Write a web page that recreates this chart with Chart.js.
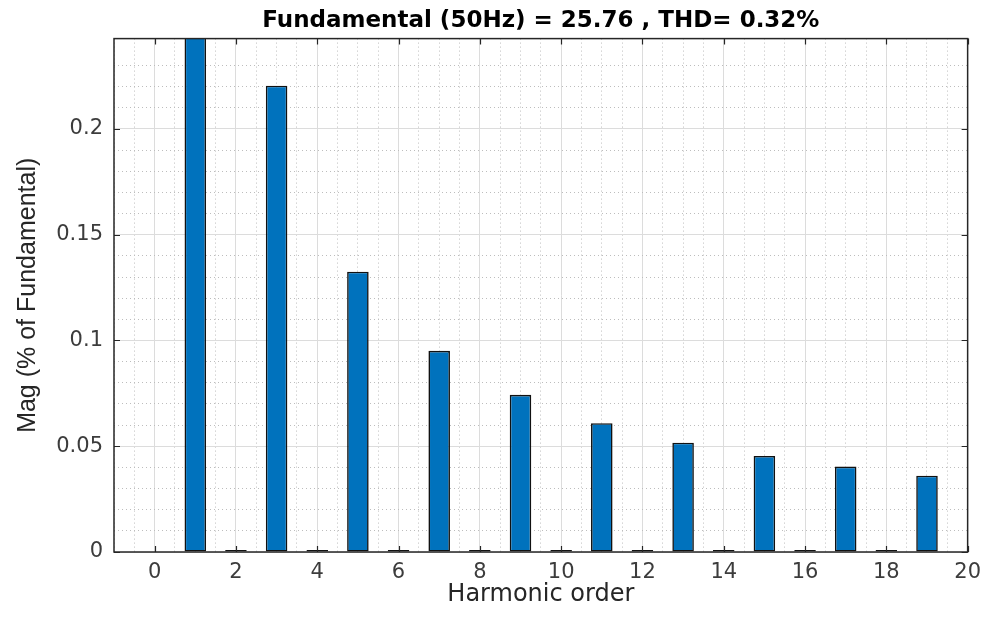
<!DOCTYPE html>
<html>
<head>
<meta charset="utf-8">
<script src="https://cdn.jsdelivr.net/npm/chart.js@4/dist/chart.umd.min.js"></script>
<style>
  html, body { margin: 0; padding: 0; background: #ffffff; }
  #wrap { width: 989px; height: 619px; }
</style>
</head>
<body>
<div id="wrap"><canvas id="c" width="989" height="619"></canvas></div>
<script>
// ---- data ----
const harmonicOrder = [0, 1, 2, 3, 4, 5, 6, 7, 8, 9, 10, 11, 12, 13, 14, 15, 16, 17, 18, 19];
const magnitudePct  = [0, 100, 0.001, 0.2204, 0.001, 0.1325, 0.001, 0.0951, 0.001, 0.0743,
                       0.001, 0.0609, 0.001, 0.0517, 0.001, 0.0454, 0.001, 0.0404, 0.001, 0.0361];
const xRange = [-1, 20];
const yRange = [0, 0.2427];
const xMajorStep = 2, xMinorStep = 0.5;
const yMajorStep = 0.05, yMinorStep = 0.01;
const titleText = 'Fundamental (50Hz) = 25.76 , THD= 0.32%';
const xTitle = 'Harmonic order';
const yTitle = 'Mag (% of Fundamental)';

const isMajor = (v, step) => Math.abs(v / step - Math.round(v / step)) < 1e-6;
const isMajorX = v => v >= 0 && isMajor(v, xMajorStep);
const isMajorY = v => isMajor(v, yMajorStep);

const AXIS = '#262626';
const MAJOR_GRID = '#dcdcdc';
const MINOR_GRID = '#bdbdbd';

const boxPlugin = {
  id: 'matlabBox',
  afterDatasetsDraw(chart) {
    const { ctx, chartArea: a, scales: { x, y } } = chart;
    ctx.save();
    ctx.strokeStyle = AXIS;
    ctx.lineWidth = 1.2;
    const L = 6;
    ctx.beginPath();
    x.ticks.forEach(t => {
      if (!isMajorX(t.value)) return;
      const p = Math.round(x.getPixelForValue(t.value)) + 0.5;
      ctx.moveTo(p, a.bottom); ctx.lineTo(p, a.bottom - L);
      ctx.moveTo(p, a.top); ctx.lineTo(p, a.top + L);
    });
    y.ticks.forEach(t => {
      if (!isMajorY(t.value)) return;
      const p = Math.round(y.getPixelForValue(t.value)) + 0.5;
      ctx.moveTo(a.left, p); ctx.lineTo(a.left + L, p);
      ctx.moveTo(a.right, p); ctx.lineTo(a.right - L, p);
    });
    ctx.stroke();
    ctx.lineWidth = 1.5;
    ctx.strokeRect(a.left, a.top, a.right - a.left, a.bottom - a.top);
    ctx.restore();
  }
};

new Chart(document.getElementById('c'), {
  type: 'bar',
  data: {
    datasets: [{
      data: harmonicOrder.map((h, i) => ({ x: h, y: magnitudePct[i] })),
      backgroundColor: '#0072BD',
      borderColor: '#111111',
      borderWidth: 1.6,
      borderSkipped: false,
      // ruler is the 0.5-unit minor tick spacing, so ~1.06 of it ≈ 0.53 harmonic
      barPercentage: 1.06,
      categoryPercentage: 1.0,
      clip: 0
    }]
  },
  options: {
    responsive: false,
    devicePixelRatio: 1,
    animation: false,
    layout: { padding: { top: 0, right: 19, bottom: 0, left: 0 } },
    plugins: {
      legend: { display: false },
      tooltip: { enabled: false },
      title: {
        display: true,
        text: titleText,
        fullSize: false,
        color: '#000000',
        font: { family: 'DejaVu Sans', size: 23, weight: 'bold', lineHeight: 1.2 },
        padding: { top: 7, bottom: 4 }
      }
    },
    scales: {
      x: {
        type: 'linear',
        min: xRange[0],
        max: xRange[1],
        offset: false,
        afterFit: s => { s.height = 67; },
        grid: {
          offset: false,
          drawTicks: false,
          lineWidth: 1,
          color: c => (c.tick && isMajorX(c.tick.value)) ? MAJOR_GRID : MINOR_GRID
        },
        border: {
          display: false,
          dash: c => (c.tick && !isMajorX(c.tick.value)) ? [1, 3] : []
        },
        ticks: {
          stepSize: xMinorStep,
          autoSkip: false,
          maxRotation: 0,
          minRotation: 0,
          padding: 8,
          color: '#3c3c3c',
          font: { family: 'DejaVu Sans', size: 21, lineHeight: 1.2 },
          callback: v => isMajorX(v) ? String(Math.round(v)) : ''
        },
        title: {
          display: true,
          text: xTitle,
          color: '#262626',
          font: { family: 'DejaVu Sans', size: 24, lineHeight: 1.2 },
          padding: 10
        }
      },
      y: {
        type: 'linear',
        min: yRange[0],
        max: yRange[1],
        afterFit: s => { s.width = 114; },
        grid: {
          drawTicks: false,
          lineWidth: 1,
          color: c => (c.tick && isMajorY(c.tick.value)) ? MAJOR_GRID : MINOR_GRID
        },
        border: {
          display: false,
          dash: c => (c.tick && !isMajorY(c.tick.value)) ? [1, 3] : []
        },
        ticks: {
          stepSize: yMinorStep,
          autoSkip: false,
          padding: 11,
          color: '#3c3c3c',
          font: { family: 'DejaVu Sans', size: 21, lineHeight: 1.2 },
          callback: v => isMajorY(v) ? String(Math.round(v * 100) / 100) : ''
        },
        title: {
          display: true,
          text: yTitle,
          color: '#262626',
          font: { family: 'Liberation Sans', size: 25, lineHeight: 1.2 },
          padding: 13
        }
      }
    }
  },
  plugins: [boxPlugin]
});
</script>
</body>
</html>
